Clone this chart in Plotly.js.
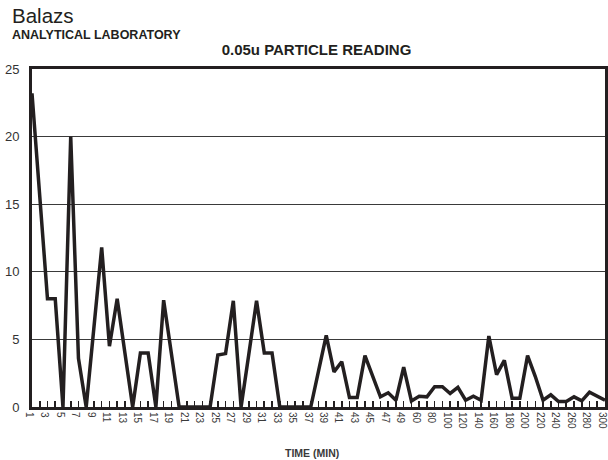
<!DOCTYPE html>
<html>
<head>
<meta charset="utf-8">
<script src="https://cdn.plot.ly/plotly-3.0.1.min.js"></script>
<style>
  html, body { margin: 0; padding: 0; background: #ffffff; }
  #chart { width: 608px; height: 460px; }
</style>
</head>
<body>
<div id="chart"></div>
<script>
// Time categories (minutes)
const categories = ['1','2','3','4','5','6','7','8','9','10',
  '11','12','13','14','15','16','17','18','19','20',
  '21','22','23','24','25','26','27','28','29','30',
  '31','32','33','34','35','36','37','38','39','40',
  '41','42','43','44','45','46','47','48','49','50',
  '60','70','80','90','100','110','120','130','140','150',
  '160','170','180','190','200','210','220','230','240','250',
  '260','270','280','290','300'];

// 0.05u particle readings
const readings = [23.2, 15.6, 8.0, 8.0, 0, 20.0, 3.6, 0, 5.9, 11.8,
  4.5, 8.0, 4.0, 0, 4.0, 4.0, 0, 7.9, 3.95, 0,
  0, 0, 0, 0, 3.85, 3.95, 7.85, 0, 3.9, 7.85,
  4.0, 4.0, 0, 0, 0, 0, 0, 2.65, 5.3, 2.6,
  3.35, 0.7, 0.7, 3.8, 2.3, 0.75, 1.05, 0.5, 2.95, 0.45,
  0.8, 0.75, 1.5, 1.5, 1.0, 1.45, 0.5, 0.8, 0.5, 5.25,
  2.4, 3.45, 0.65, 0.65, 3.8, 2.25, 0.5, 0.9, 0.4, 0.4,
  0.75, 0.45, 1.1, 0.8, 0.5];

// Labelled ticks on the time axis
const tickLabels = ['1','3','5','7','9','11','13','15','17','19','21','23','25',
  '27','29','31','33','35','37','39','41','43','45','47','49',
  '60','80','100','120','140','160','180','200','220','240','260','280','300'];

const yTicks = [0, 5, 10, 15, 20, 25];

const ink = '#231f20';
const font = 'Liberation Sans, Arial, Helvetica, sans-serif';

const trace = {
  type: 'scatter',
  mode: 'lines',
  x: categories,
  y: readings,
  line: { color: ink, width: 3.5 },
  hoverinfo: 'x+y'
};

const layout = {
  width: 608,
  height: 460,
  margin: { l: 32, r: 3, t: 69, b: 53 },
  paper_bgcolor: '#ffffff',
  plot_bgcolor: '#ffffff',
  showlegend: false,
  font: { family: font, color: ink },
  title: {
    text: '<b>0.05u PARTICLE READING</b>',
    font: { family: font, size: 15, color: ink },
    xref: 'container', yref: 'container',
    x: 316.5 / 608, xanchor: 'center',
    y: 1 - 50 / 460, yanchor: 'middle'
  },
  xaxis: {
    type: 'category',
    range: [0, categories.length - 1],
    tickmode: 'array',
    tickvals: categories,
    ticktext: categories.map(c => tickLabels.includes(c) ? c : ''),
    tickangle: 90,
    tickfont: { family: font, size: 10, color: '#3a3a3a' },
    ticklabelshift: -3,
    ticks: 'inside',
    ticklen: 6,
    tickwidth: 1.6,
    tickcolor: ink,
    showline: true,
    linecolor: ink,
    linewidth: 3,
    mirror: true,
    showgrid: false,
    zeroline: false,
    fixedrange: true
  },
  yaxis: {
    range: [0, 25],
    tickmode: 'array',
    tickvals: yTicks,
    ticktext: yTicks.map(String),
    tickfont: { family: font, size: 13, color: '#333333' },
    ticklabelstandoff: 7,
    ticks: '',
    showline: true,
    linecolor: ink,
    linewidth: 3,
    mirror: true,
    showgrid: true,
    gridcolor: '#3a3a3a',
    gridwidth: 1,
    zeroline: false,
    fixedrange: true
  },
  annotations: [
    {
      text: 'Balazs',
      xref: 'paper', yref: 'paper',
      x: (10 - 32) / 573, y: (407 - 16) / 338,
      xanchor: 'left', yanchor: 'middle',
      showarrow: false,
      font: { family: font, size: 20.5, color: ink }
    },
    {
      text: '<b>ANALYTICAL LABORATORY</b>',
      xref: 'paper', yref: 'paper',
      x: (10 - 32) / 573, y: (407 - 34.5) / 338,
      xanchor: 'left', yanchor: 'middle',
      showarrow: false,
      font: { family: font, size: 12.5, color: ink }
    },
    {
      text: '<b>TIME (MIN)</b>',
      xref: 'paper', yref: 'paper',
      x: (311.5 - 32) / 573, y: (407 - 453) / 338,
      xanchor: 'center', yanchor: 'middle',
      showarrow: false,
      font: { family: font, size: 10.5, color: '#3a3a3a' }
    }
  ]
};

Plotly.newPlot('chart', [trace], layout, { displayModeBar: false, staticPlot: true });
</script>
</body>
</html>
